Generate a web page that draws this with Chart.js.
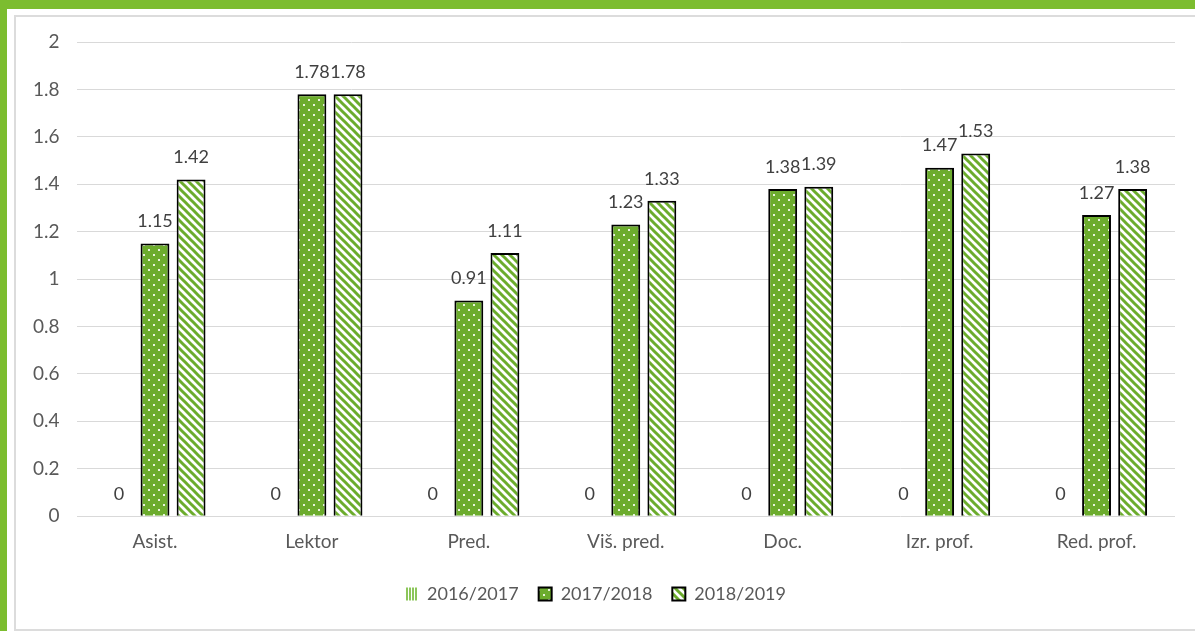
<!DOCTYPE html>
<html>
<head>
<meta charset="utf-8">
<script src="https://cdn.jsdelivr.net/npm/chart.js@4"></script>
<style>
  body { margin: 0; background: #fff; width: 1195px; height: 631px; overflow: hidden; position: relative; }
  #topBand { position: absolute; left: 0; top: 0; width: 1195px; height: 9px; background: #7cbd2f; }
  #leftBand { position: absolute; left: 0; top: 0; width: 7px; height: 631px; background: #7cbd2f; }
  #frame { position: absolute; left: 14px; top: 15px; width: 1200px; height: 612px; border: 2px solid #dcdcdc; }
  #wrap { position: absolute; left: 16px; top: 17px; width: 1179px; height: 612px; }
</style>
</head>
<body>
<div id="topBand"></div>
<div id="leftBand"></div>
<div id="frame"></div>
<div id="wrap"><canvas id="myChart"></canvas></div>
<script>
const categories = ["Asist.", "Lektor", "Pred.", "Viš. pred.", "Doc.", "Izr. prof.", "Red. prof."];
const seriesNames = ["2016/2017", "2017/2018", "2018/2019"];
const values2016 = [0, 0, 0, 0, 0, 0, 0];
const values2017 = [1.15, 1.78, 0.91, 1.23, 1.38, 1.47, 1.27];
const values2018 = [1.42, 1.78, 1.11, 1.33, 1.39, 1.53, 1.38];
const yTicks = [0, 0.2, 0.4, 0.6, 0.8, 1, 1.2, 1.4, 1.6, 1.8, 2];

const green = "#6cac2d";
const fontFamily = "Lato, 'Open Sans', sans-serif";

function makeDots() {
  const c = document.createElement("canvas");
  c.width = 10; c.height = 10;
  const g = c.getContext("2d");
  g.fillStyle = green;
  g.fillRect(0, 0, 10, 10);
  g.fillStyle = "#e8f3dc";
  g.fillRect(2, 2, 2, 2);
  g.fillRect(7, 7, 2, 2);
  return g.createPattern(c, "repeat");
}

function makeStripes() {
  const c = document.createElement("canvas");
  c.width = 8; c.height = 8;
  const g = c.getContext("2d");
  g.fillStyle = "#ffffff";
  g.fillRect(0, 0, 8, 8);
  g.strokeStyle = green;
  g.lineWidth = 3;
  [-8, 0, 8].forEach(function (o) {
    g.beginPath();
    g.moveTo(o - 2, -2);
    g.lineTo(o + 10, 10);
    g.stroke();
  });
  return g.createPattern(c, "repeat");
}

function makeVertical() {
  const c = document.createElement("canvas");
  c.width = 3; c.height = 3;
  const g = c.getContext("2d");
  g.fillStyle = "#ffffff";
  g.fillRect(0, 0, 3, 3);
  g.fillStyle = "#8cc65a";
  g.fillRect(0, 0, 2, 3);
  return g.createPattern(c, "repeat");
}

const ctx = document.getElementById("myChart").getContext("2d");

// value labels above every bar
const valueLabels = {
  id: "valueLabels",
  afterDatasetsDraw(chart) {
    const c = chart.ctx;
    c.save();
    c.font = "18px " + fontFamily;
    c.fillStyle = "#404040";
    c.textAlign = "center";
    c.textBaseline = "middle";
    chart.data.datasets.forEach(function (ds, i) {
      chart.getDatasetMeta(i).data.forEach(function (bar, j) {
        c.fillText(String(ds.data[j]), bar.x, bar.y - 22);
      });
    });
    c.restore();
  }
};

const myChart = new Chart(ctx, {
  type: "bar",
  data: {
    labels: categories,
    datasets: [
      {
        label: seriesNames[0],
        data: values2016,
        backgroundColor: makeVertical(),
        borderWidth: 0,
      },
      {
        label: seriesNames[1],
        data: values2017,
        backgroundColor: makeDots(),
        borderColor: "#000000",
        borderWidth: 2,
      },
      {
        label: seriesNames[2],
        data: values2018,
        backgroundColor: makeStripes(),
        borderColor: "#000000",
        borderWidth: 2,
      },
    ],
  },
  options: {
    responsive: true,
    maintainAspectRatio: false,
    animation: false,
    categoryPercentage: 0.69,
    barPercentage: 0.8,
    layout: { padding: { left: 0, right: 20, top: 25, bottom: 16 } },
    plugins: {
      legend: {
        position: "bottom",
        labels: {
          boxWidth: 13,
          boxHeight: 13,
          padding: 20,
          color: "#595959",
          font: { size: 18, family: fontFamily },
        },
      },
      tooltip: { enabled: false },
    },
    scales: {
      x: {
        grid: { display: false },
        border: { display: false },
        afterFit: function (scale) { scale.height += 6; },
        ticks: {
          color: "#595959",
          font: { size: 19, family: fontFamily },
          padding: 6,
        },
      },
      y: {
        min: 0,
        max: 2,
        afterBuildTicks: function (axis) {
          axis.ticks = yTicks.map(function (v) { return { value: v }; });
        },
        afterFit: function (scale) { scale.paddingTop = 0; },
        grid: { color: "#d9d9d9", lineWidth: 1, drawTicks: false },
        border: { display: false },
        ticks: {
          color: "#595959",
          font: { size: 19, family: fontFamily },
          padding: 17,
          callback: function (v) { return String(v); },
        },
      },
    },
  },
  plugins: [valueLabels],
});
</script>
</body>
</html>
